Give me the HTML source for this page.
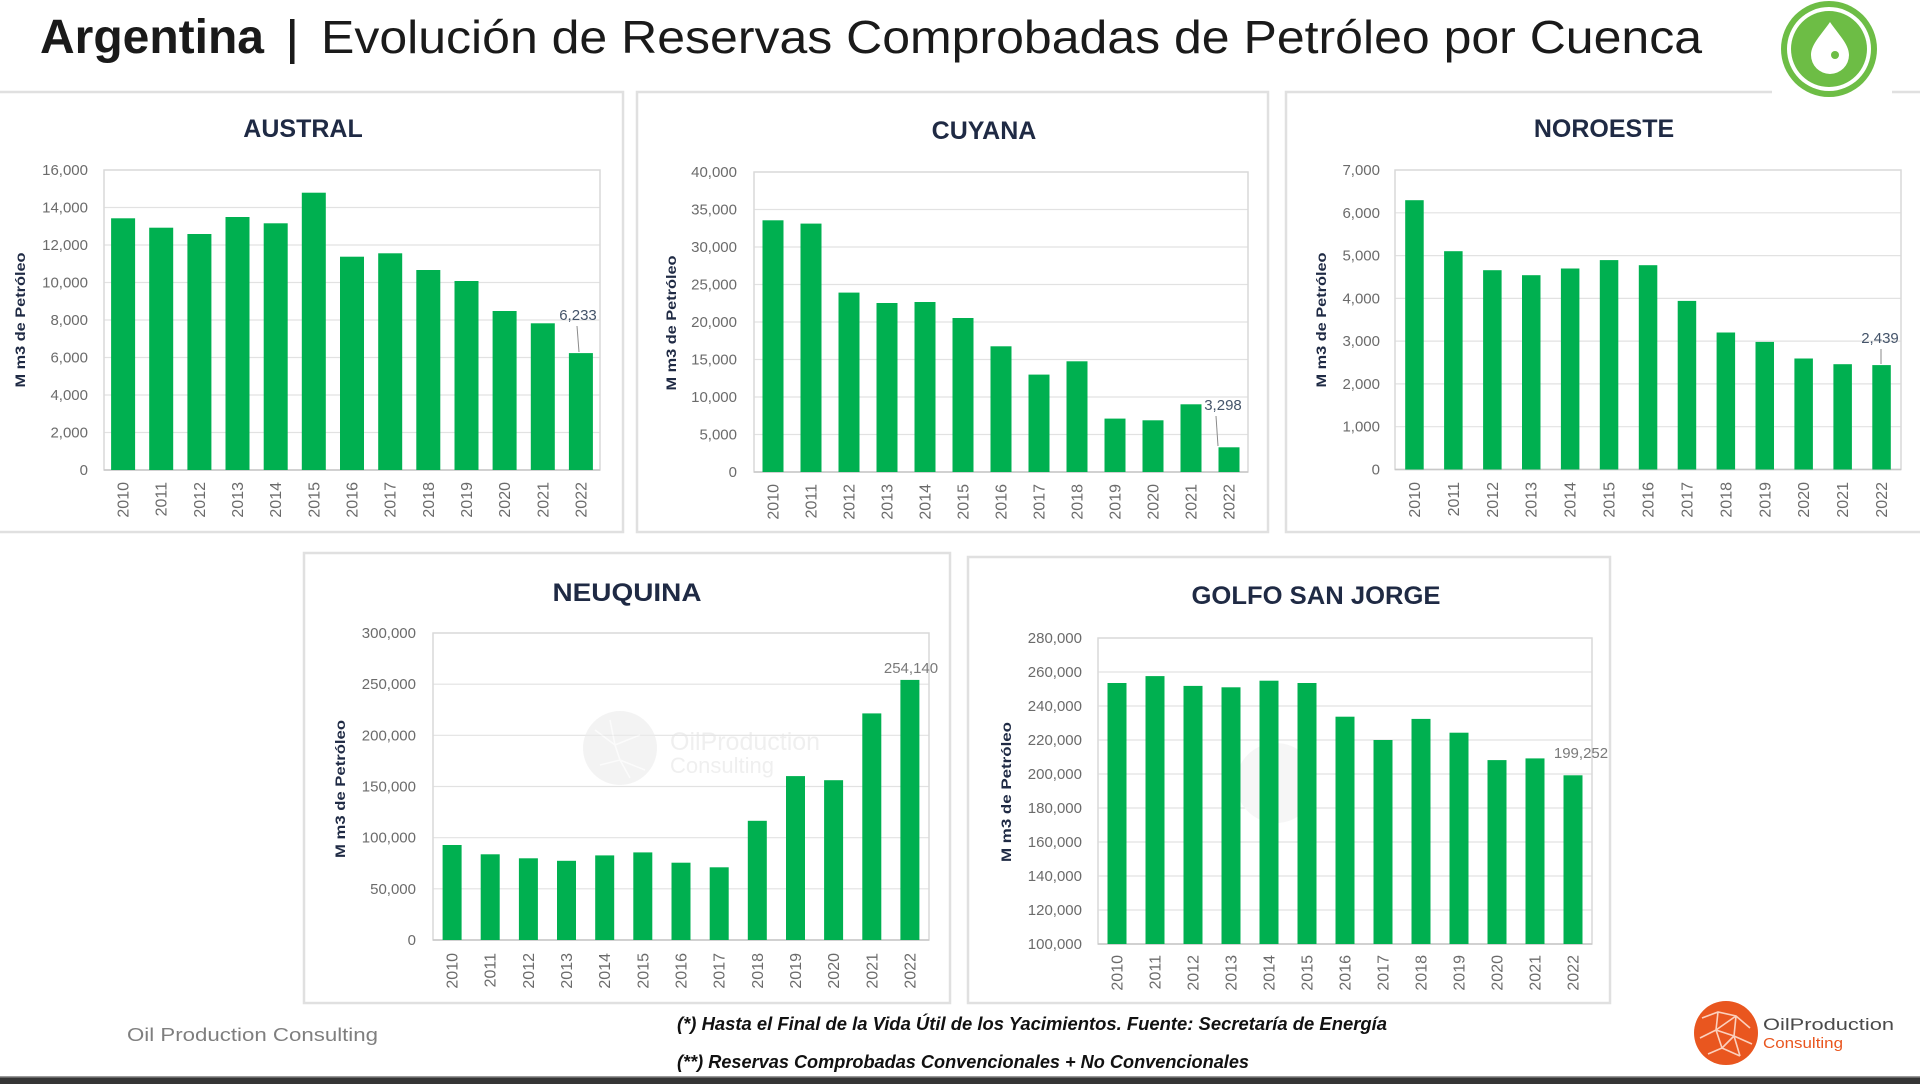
<!DOCTYPE html>
<html><head><meta charset="utf-8"><style>
html,body{margin:0;padding:0;background:#fff;}
svg{display:block;}
text{font-family:"Liberation Sans",Arial,sans-serif;}
</style></head><body>
<svg width="1920" height="1084" viewBox="0 0 1920 1084" xmlns="http://www.w3.org/2000/svg">
<rect width="1920" height="1084" fill="#fff"/>

<!-- Panels -->
<g fill="#fff" stroke="#e0e0e0" stroke-width="2.5">
<rect x="-3" y="92" width="626" height="440"/>
<rect x="637" y="92" width="631" height="440"/>
<rect x="1286" y="92" width="640" height="440"/>
<rect x="304" y="553" width="646" height="450"/>
<rect x="968" y="557" width="642" height="446"/>
</g>

<!-- Title -->
<text x="40" y="53" font-size="48" font-weight="bold" fill="#1a1a1a" textLength="224" lengthAdjust="spacingAndGlyphs">Argentina</text>
<rect x="290" y="19" width="4.5" height="45" fill="#1a1a1a"/>
<text x="321" y="53" font-size="46" fill="#1a1a1a" textLength="1381" lengthAdjust="spacingAndGlyphs">Evolución de Reservas Comprobadas de Petróleo por Cuenca</text>

<!-- Top right logo -->
<rect x="1772" y="0" width="120" height="100" fill="#fff"/>
<circle cx="1829" cy="49" r="48" fill="#6dbd45"/>
<circle cx="1829" cy="49" r="42" fill="#fff"/>
<circle cx="1829" cy="49" r="38" fill="#6dbd45"/>
<path d="M1830 22 C1822 34 1811 44 1811 55 A19 19 0 0 0 1849 55 C1849 44 1838 34 1830 22 Z" fill="#fff"/>
<circle cx="1835" cy="55" r="4" fill="#6dbd45"/>

<!-- ============ AUSTRAL ============ -->
<text x="303" y="137" font-size="25" font-weight="bold" fill="#1f2a44" text-anchor="middle">AUSTRAL</text>
<g stroke="#e2e2e2" stroke-width="1.2">
<line x1="104" y1="432.5" x2="600" y2="432.5"/><line x1="104" y1="395" x2="600" y2="395"/>
<line x1="104" y1="357.5" x2="600" y2="357.5"/><line x1="104" y1="320" x2="600" y2="320"/>
<line x1="104" y1="282.5" x2="600" y2="282.5"/><line x1="104" y1="245" x2="600" y2="245"/>
<line x1="104" y1="207.5" x2="600" y2="207.5"/>
</g>
<rect x="104" y="170" width="496" height="300" fill="none" stroke="#d9d9d9" stroke-width="1.5"/>
<line x1="104" y1="470" x2="600" y2="470" stroke="#c8c8c8" stroke-width="1.5"/>
<g fill="#00b050">
<rect x="111.1" y="218.3" width="24" height="251.7"/>
<rect x="149.2" y="227.7" width="24" height="242.3"/>
<rect x="187.4" y="234.0" width="24" height="236.0"/>
<rect x="225.5" y="217.0" width="24" height="253.0"/>
<rect x="263.7" y="223.3" width="24" height="246.7"/>
<rect x="301.8" y="192.7" width="24" height="277.3"/>
<rect x="340.0" y="256.7" width="24" height="213.3"/>
<rect x="378.2" y="253.3" width="24" height="216.7"/>
<rect x="416.3" y="270.0" width="24" height="200.0"/>
<rect x="454.5" y="281.0" width="24" height="189.0"/>
<rect x="492.6" y="311.0" width="24" height="159.0"/>
<rect x="530.8" y="323.3" width="24" height="146.7"/>
<rect x="568.9" y="353.1" width="24" height="116.9"/>
</g>
<g font-size="15" fill="#6b6b6b" text-anchor="end">
<text x="88" y="475">0</text><text x="88" y="437.5">2,000</text><text x="88" y="400">4,000</text>
<text x="88" y="362.5">6,000</text><text x="88" y="325">8,000</text><text x="88" y="287.5">10,000</text>
<text x="88" y="250">12,000</text><text x="88" y="212.5">14,000</text><text x="88" y="175">16,000</text>
</g>
<g font-size="16" fill="#6b6b6b" text-anchor="end">
<text transform="translate(128.6,482) rotate(-90)">2010</text>
<text transform="translate(166.7,482) rotate(-90)">2011</text>
<text transform="translate(204.9,482) rotate(-90)">2012</text>
<text transform="translate(243.0,482) rotate(-90)">2013</text>
<text transform="translate(281.2,482) rotate(-90)">2014</text>
<text transform="translate(319.3,482) rotate(-90)">2015</text>
<text transform="translate(357.5,482) rotate(-90)">2016</text>
<text transform="translate(395.7,482) rotate(-90)">2017</text>
<text transform="translate(433.8,482) rotate(-90)">2018</text>
<text transform="translate(472.0,482) rotate(-90)">2019</text>
<text transform="translate(510.1,482) rotate(-90)">2020</text>
<text transform="translate(548.3,482) rotate(-90)">2021</text>
<text transform="translate(586.4,482) rotate(-90)">2022</text>
</g>
<text transform="translate(25,320) rotate(-90)" font-size="14" font-weight="bold" fill="#1f2a44" text-anchor="middle" textLength="135" lengthAdjust="spacingAndGlyphs">M m3 de Petróleo</text>
<text x="578" y="320" font-size="15" fill="#44546a" text-anchor="middle">6,233</text>
<line x1="577" y1="326" x2="579" y2="352" stroke="#8a8a8a" stroke-width="1"/>

<!-- ============ CUYANA ============ -->
<text x="984" y="139" font-size="25" font-weight="bold" fill="#1f2a44" text-anchor="middle">CUYANA</text>
<g stroke="#e2e2e2" stroke-width="1.2">
<line x1="754" y1="434.5" x2="1248" y2="434.5"/><line x1="754" y1="397" x2="1248" y2="397"/>
<line x1="754" y1="359.5" x2="1248" y2="359.5"/><line x1="754" y1="322" x2="1248" y2="322"/>
<line x1="754" y1="284.5" x2="1248" y2="284.5"/><line x1="754" y1="247" x2="1248" y2="247"/>
<line x1="754" y1="209.5" x2="1248" y2="209.5"/>
</g>
<rect x="754" y="172" width="494" height="300" fill="none" stroke="#d9d9d9" stroke-width="1.5"/>
<line x1="754" y1="472" x2="1248" y2="472" stroke="#c8c8c8" stroke-width="1.5"/>
<g fill="#00b050">
<rect x="762.5" y="220.3" width="21" height="251.7"/>
<rect x="800.5" y="223.6" width="21" height="248.4"/>
<rect x="838.5" y="292.6" width="21" height="179.4"/>
<rect x="876.5" y="303.0" width="21" height="169.0"/>
<rect x="914.5" y="302.0" width="21" height="170.0"/>
<rect x="952.5" y="318.0" width="21" height="154.0"/>
<rect x="990.5" y="346.3" width="21" height="125.7"/>
<rect x="1028.5" y="374.6" width="21" height="97.4"/>
<rect x="1066.5" y="361.3" width="21" height="110.7"/>
<rect x="1104.5" y="418.6" width="21" height="53.4"/>
<rect x="1142.5" y="420.3" width="21" height="51.7"/>
<rect x="1180.5" y="404.3" width="21" height="67.7"/>
<rect x="1218.5" y="447.3" width="21" height="24.7"/>
</g>
<g font-size="15" fill="#6b6b6b" text-anchor="end">
<text x="737" y="477">0</text><text x="737" y="439.5">5,000</text><text x="737" y="402">10,000</text>
<text x="737" y="364.5">15,000</text><text x="737" y="327">20,000</text><text x="737" y="289.5">25,000</text>
<text x="737" y="252">30,000</text><text x="737" y="214.5">35,000</text><text x="737" y="177">40,000</text>
</g>
<g font-size="16" fill="#6b6b6b" text-anchor="end">
<text transform="translate(778.5,484) rotate(-90)">2010</text>
<text transform="translate(816.5,484) rotate(-90)">2011</text>
<text transform="translate(854.5,484) rotate(-90)">2012</text>
<text transform="translate(892.5,484) rotate(-90)">2013</text>
<text transform="translate(930.5,484) rotate(-90)">2014</text>
<text transform="translate(968.5,484) rotate(-90)">2015</text>
<text transform="translate(1006.5,484) rotate(-90)">2016</text>
<text transform="translate(1044.5,484) rotate(-90)">2017</text>
<text transform="translate(1082.5,484) rotate(-90)">2018</text>
<text transform="translate(1120.5,484) rotate(-90)">2019</text>
<text transform="translate(1158.5,484) rotate(-90)">2020</text>
<text transform="translate(1196.5,484) rotate(-90)">2021</text>
<text transform="translate(1234.5,484) rotate(-90)">2022</text>
</g>
<text transform="translate(676,323) rotate(-90)" font-size="14" font-weight="bold" fill="#1f2a44" text-anchor="middle" textLength="135" lengthAdjust="spacingAndGlyphs">M m3 de Petróleo</text>
<text x="1223" y="410" font-size="15" fill="#44546a" text-anchor="middle">3,298</text>
<line x1="1216" y1="416" x2="1218" y2="446" stroke="#8a8a8a" stroke-width="1"/>

<!-- ============ NOROESTE ============ -->
<text x="1604" y="137" font-size="25" font-weight="bold" fill="#1f2a44" text-anchor="middle">NOROESTE</text>
<g stroke="#e2e2e2" stroke-width="1.2">
<line x1="1395" y1="426.7" x2="1901" y2="426.7"/><line x1="1395" y1="383.9" x2="1901" y2="383.9"/>
<line x1="1395" y1="341.1" x2="1901" y2="341.1"/><line x1="1395" y1="298.4" x2="1901" y2="298.4"/>
<line x1="1395" y1="255.6" x2="1901" y2="255.6"/><line x1="1395" y1="212.8" x2="1901" y2="212.8"/>
</g>
<rect x="1395" y="170" width="506" height="299.5" fill="none" stroke="#d9d9d9" stroke-width="1.5"/>
<line x1="1395" y1="469.5" x2="1901" y2="469.5" stroke="#c8c8c8" stroke-width="1.5"/>
<g fill="#00b050">
<rect x="1405.2" y="200.2" width="18.5" height="269.3"/>
<rect x="1444.1" y="251.2" width="18.5" height="218.3"/>
<rect x="1483.1" y="270.2" width="18.5" height="199.3"/>
<rect x="1522.0" y="275.2" width="18.5" height="194.3"/>
<rect x="1560.9" y="268.5" width="18.5" height="201.0"/>
<rect x="1599.8" y="260.1" width="18.5" height="209.4"/>
<rect x="1638.8" y="265.2" width="18.5" height="204.3"/>
<rect x="1677.7" y="300.9" width="18.5" height="168.6"/>
<rect x="1716.6" y="332.5" width="18.5" height="137.0"/>
<rect x="1755.5" y="341.9" width="18.5" height="127.6"/>
<rect x="1794.4" y="358.5" width="18.5" height="111.0"/>
<rect x="1833.4" y="364.2" width="18.5" height="105.3"/>
<rect x="1872.3" y="365.1" width="18.5" height="104.4"/>
</g>
<g font-size="15" fill="#6b6b6b" text-anchor="end">
<text x="1380" y="474.5">0</text><text x="1380" y="431.7">1,000</text><text x="1380" y="388.9">2,000</text>
<text x="1380" y="346.1">3,000</text><text x="1380" y="303.4">4,000</text><text x="1380" y="260.6">5,000</text>
<text x="1380" y="217.8">6,000</text><text x="1380" y="175">7,000</text>
</g>
<g font-size="16" fill="#6b6b6b" text-anchor="end">
<text transform="translate(1420.0,482) rotate(-90)">2010</text>
<text transform="translate(1458.9,482) rotate(-90)">2011</text>
<text transform="translate(1497.8,482) rotate(-90)">2012</text>
<text transform="translate(1536.7,482) rotate(-90)">2013</text>
<text transform="translate(1575.7,482) rotate(-90)">2014</text>
<text transform="translate(1614.6,482) rotate(-90)">2015</text>
<text transform="translate(1653.5,482) rotate(-90)">2016</text>
<text transform="translate(1692.4,482) rotate(-90)">2017</text>
<text transform="translate(1731.4,482) rotate(-90)">2018</text>
<text transform="translate(1770.3,482) rotate(-90)">2019</text>
<text transform="translate(1809.2,482) rotate(-90)">2020</text>
<text transform="translate(1848.1,482) rotate(-90)">2021</text>
<text transform="translate(1887.0,482) rotate(-90)">2022</text>
</g>
<text transform="translate(1326,320) rotate(-90)" font-size="14" font-weight="bold" fill="#1f2a44" text-anchor="middle" textLength="135" lengthAdjust="spacingAndGlyphs">M m3 de Petróleo</text>
<text x="1880" y="343" font-size="15" fill="#44546a" text-anchor="middle">2,439</text>
<line x1="1881" y1="349" x2="1881" y2="364" stroke="#8a8a8a" stroke-width="1"/>

<!-- ============ NEUQUINA ============ -->
<text x="627" y="601" font-size="25" font-weight="bold" fill="#1f2a44" text-anchor="middle" textLength="149" lengthAdjust="spacingAndGlyphs">NEUQUINA</text>
<g stroke="#e2e2e2" stroke-width="1.2">
<line x1="433" y1="888.8" x2="929" y2="888.8"/><line x1="433" y1="837.7" x2="929" y2="837.7"/>
<line x1="433" y1="786.5" x2="929" y2="786.5"/><line x1="433" y1="735.3" x2="929" y2="735.3"/>
<line x1="433" y1="684.2" x2="929" y2="684.2"/>
</g>
<rect x="433" y="633" width="496" height="307" fill="none" stroke="#d9d9d9" stroke-width="1.5"/>
<!-- watermark -->
<g opacity="0.6">
<circle cx="620" cy="748" r="37" fill="#ececec"/>
<g stroke="#fafafa" stroke-width="1.5" fill="none">
<path d="M595 730 L615 745 L640 735 M600 765 L620 760 L645 770 M615 745 L620 760 M610 720 L615 745 M630 778 L620 760"/>
</g>
<text x="670" y="750" font-size="25" fill="#e6e6e6">OilProduction</text>
<text x="670" y="773" font-size="22" fill="#e6e6e6">Consulting</text>
</g>
<line x1="433" y1="940" x2="929" y2="940" stroke="#c8c8c8" stroke-width="1.5"/>
<g fill="#00b050">
<rect x="442.6" y="845.0" width="19" height="95.0"/>
<rect x="480.7" y="854.3" width="19" height="85.7"/>
<rect x="518.9" y="858.3" width="19" height="81.7"/>
<rect x="557.0" y="860.8" width="19" height="79.2"/>
<rect x="595.2" y="855.4" width="19" height="84.6"/>
<rect x="633.3" y="852.4" width="19" height="87.6"/>
<rect x="671.5" y="862.7" width="19" height="77.3"/>
<rect x="709.7" y="867.3" width="19" height="72.7"/>
<rect x="747.8" y="820.8" width="19" height="119.2"/>
<rect x="786.0" y="776.1" width="19" height="163.9"/>
<rect x="824.1" y="780.2" width="19" height="159.8"/>
<rect x="862.3" y="713.4" width="19" height="226.6"/>
<rect x="900.4" y="679.9" width="19" height="260.1"/>
</g>
<g font-size="15" fill="#6b6b6b" text-anchor="end">
<text x="416" y="945">0</text><text x="416" y="893.8">50,000</text><text x="416" y="842.7">100,000</text>
<text x="416" y="791.5">150,000</text><text x="416" y="740.3">200,000</text><text x="416" y="689.2">250,000</text>
<text x="416" y="638">300,000</text>
</g>
<g font-size="16" fill="#6b6b6b" text-anchor="end">
<text transform="translate(457.6,953) rotate(-90)">2010</text>
<text transform="translate(495.7,953) rotate(-90)">2011</text>
<text transform="translate(533.9,953) rotate(-90)">2012</text>
<text transform="translate(572.0,953) rotate(-90)">2013</text>
<text transform="translate(610.2,953) rotate(-90)">2014</text>
<text transform="translate(648.3,953) rotate(-90)">2015</text>
<text transform="translate(686.5,953) rotate(-90)">2016</text>
<text transform="translate(724.7,953) rotate(-90)">2017</text>
<text transform="translate(762.8,953) rotate(-90)">2018</text>
<text transform="translate(801.0,953) rotate(-90)">2019</text>
<text transform="translate(839.1,953) rotate(-90)">2020</text>
<text transform="translate(877.3,953) rotate(-90)">2021</text>
<text transform="translate(915.4,953) rotate(-90)">2022</text>
</g>
<text transform="translate(345,789) rotate(-90)" font-size="14" font-weight="bold" fill="#1f2a44" text-anchor="middle" textLength="138" lengthAdjust="spacingAndGlyphs">M m3 de Petróleo</text>
<text x="911" y="673" font-size="15" fill="#7a7a7a" text-anchor="middle">254,140</text>

<!-- ============ GOLFO SAN JORGE ============ -->
<text x="1316" y="604" font-size="25" font-weight="bold" fill="#1f2a44" text-anchor="middle" textLength="249" lengthAdjust="spacingAndGlyphs">GOLFO SAN JORGE</text>
<g stroke="#e2e2e2" stroke-width="1.2">
<line x1="1098" y1="910" x2="1592" y2="910"/><line x1="1098" y1="876" x2="1592" y2="876"/>
<line x1="1098" y1="842" x2="1592" y2="842"/><line x1="1098" y1="808" x2="1592" y2="808"/>
<line x1="1098" y1="774" x2="1592" y2="774"/><line x1="1098" y1="740" x2="1592" y2="740"/>
<line x1="1098" y1="706" x2="1592" y2="706"/><line x1="1098" y1="672" x2="1592" y2="672"/>
</g>
<rect x="1098" y="638" width="494" height="306" fill="none" stroke="#d9d9d9" stroke-width="1.5"/>
<circle cx="1276" cy="783" r="40" fill="#f6f6f6"/>
<line x1="1098" y1="944" x2="1592" y2="944" stroke="#c8c8c8" stroke-width="1.5"/>
<g fill="#00b050">
<rect x="1107.5" y="683.0" width="19" height="261.0"/>
<rect x="1145.5" y="676.1" width="19" height="267.9"/>
<rect x="1183.5" y="685.9" width="19" height="258.1"/>
<rect x="1221.5" y="687.3" width="19" height="256.7"/>
<rect x="1259.5" y="680.7" width="19" height="263.3"/>
<rect x="1297.5" y="683.0" width="19" height="261.0"/>
<rect x="1335.5" y="716.7" width="19" height="227.3"/>
<rect x="1373.5" y="740.0" width="19" height="204.0"/>
<rect x="1411.5" y="718.9" width="19" height="225.1"/>
<rect x="1449.5" y="732.7" width="19" height="211.3"/>
<rect x="1487.5" y="760.1" width="19" height="183.9"/>
<rect x="1525.5" y="758.4" width="19" height="185.6"/>
<rect x="1563.5" y="775.3" width="19" height="168.7"/>
</g>
<g font-size="15" fill="#6b6b6b" text-anchor="end">
<text x="1082" y="949">100,000</text><text x="1082" y="915">120,000</text><text x="1082" y="881">140,000</text>
<text x="1082" y="847">160,000</text><text x="1082" y="813">180,000</text><text x="1082" y="779">200,000</text>
<text x="1082" y="745">220,000</text><text x="1082" y="711">240,000</text><text x="1082" y="677">260,000</text>
<text x="1082" y="643">280,000</text>
</g>
<g font-size="16" fill="#6b6b6b" text-anchor="end">
<text transform="translate(1122.5,955) rotate(-90)">2010</text>
<text transform="translate(1160.5,955) rotate(-90)">2011</text>
<text transform="translate(1198.5,955) rotate(-90)">2012</text>
<text transform="translate(1236.5,955) rotate(-90)">2013</text>
<text transform="translate(1274.5,955) rotate(-90)">2014</text>
<text transform="translate(1312.5,955) rotate(-90)">2015</text>
<text transform="translate(1350.5,955) rotate(-90)">2016</text>
<text transform="translate(1388.5,955) rotate(-90)">2017</text>
<text transform="translate(1426.5,955) rotate(-90)">2018</text>
<text transform="translate(1464.5,955) rotate(-90)">2019</text>
<text transform="translate(1502.5,955) rotate(-90)">2020</text>
<text transform="translate(1540.5,955) rotate(-90)">2021</text>
<text transform="translate(1578.5,955) rotate(-90)">2022</text>
</g>
<text transform="translate(1011,792) rotate(-90)" font-size="14" font-weight="bold" fill="#1f2a44" text-anchor="middle" textLength="140" lengthAdjust="spacingAndGlyphs">M m3 de Petróleo</text>
<text x="1581" y="758" font-size="15" fill="#7a7a7a" text-anchor="middle">199,252</text>

<!-- ============ FOOTER ============ -->
<text x="127" y="1041" font-size="18" fill="#7f7f7f" textLength="251" lengthAdjust="spacingAndGlyphs">Oil Production Consulting</text>
<text x="677" y="1030" font-size="18" font-weight="bold" font-style="italic" fill="#111" textLength="710" lengthAdjust="spacingAndGlyphs">(*) Hasta el Final de la Vida Útil de los Yacimientos. Fuente: Secretaría de Energía</text>
<text x="677" y="1068" font-size="18" font-weight="bold" font-style="italic" fill="#111" textLength="572" lengthAdjust="spacingAndGlyphs">(**) Reservas Comprobadas Convencionales + No Convencionales</text>

<!-- bottom-right logo -->
<circle cx="1726" cy="1033" r="32" fill="#e9561f"/>
<g stroke="#fbd0bd" stroke-width="1.6" fill="none">
<path d="M1702 1018 L1718 1012 L1736 1016 L1750 1028 M1700 1038 L1716 1030 L1734 1036 L1752 1044 M1708 1054 L1722 1048 L1740 1056 M1718 1012 L1716 1030 L1722 1048 M1736 1016 L1734 1036 L1740 1056 M1716 1030 L1736 1016 M1722 1048 L1734 1036"/>
</g>
<text x="1763" y="1030" font-size="17" fill="#4a4a4a" textLength="131" lengthAdjust="spacingAndGlyphs">OilProduction</text>
<text x="1763" y="1048" font-size="15" fill="#e9561f" textLength="80" lengthAdjust="spacingAndGlyphs">Consulting</text>

<!-- bottom bar -->
<rect x="0" y="1076" width="1920" height="1.5" fill="#9a9a9a"/>
<rect x="0" y="1077.5" width="1920" height="7" fill="#353535"/>
</svg>
</body></html>
